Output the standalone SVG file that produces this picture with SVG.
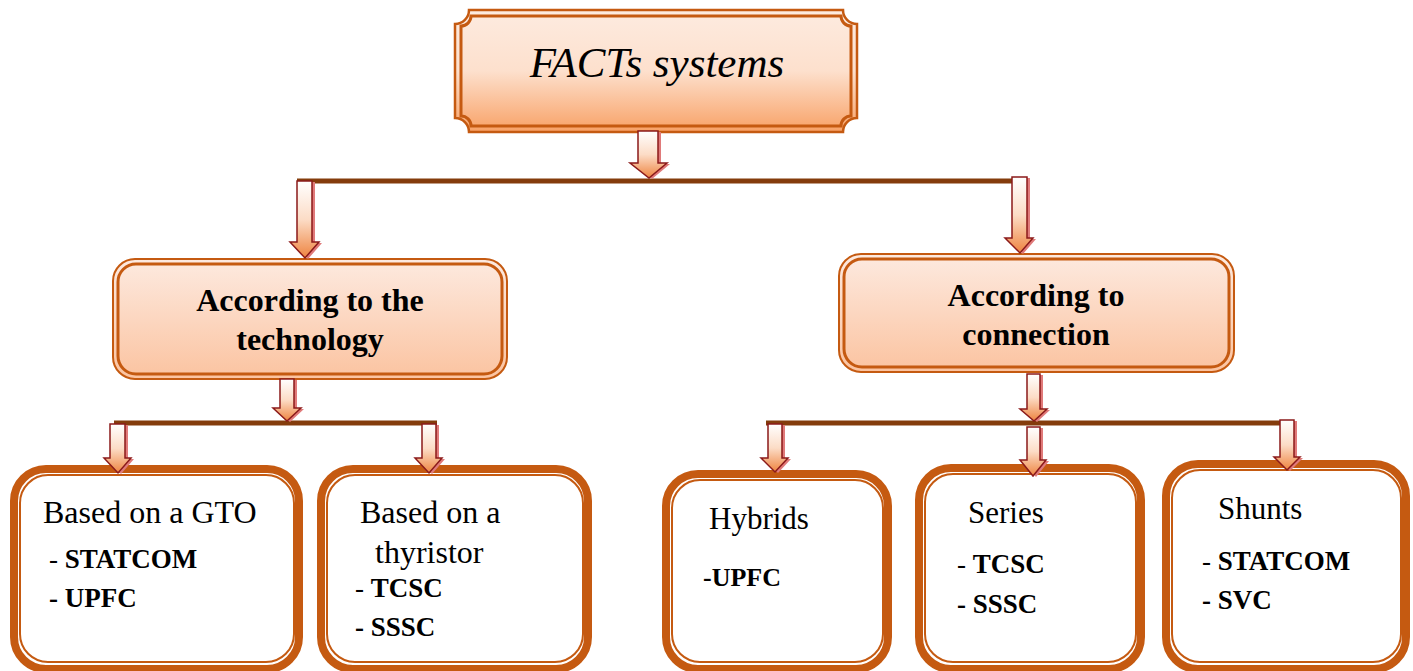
<svg xmlns="http://www.w3.org/2000/svg" width="1413" height="671" viewBox="0 0 1413 671">
<defs>
<linearGradient id="gTop" x1="0" y1="0" x2="0" y2="1">
<stop offset="0" stop-color="#fdebe0"/><stop offset="0.5" stop-color="#fde0cd"/><stop offset="1" stop-color="#f8a166"/>
</linearGradient>
<linearGradient id="gMid" x1="0" y1="0" x2="0" y2="1">
<stop offset="0" stop-color="#fdeae0"/><stop offset="1" stop-color="#fbc3a0"/>
</linearGradient>
<linearGradient id="gArr" x1="0" y1="0" x2="0" y2="1">
<stop offset="0" stop-color="#ffffff"/><stop offset="0.5" stop-color="#fcdcc6"/><stop offset="1" stop-color="#ee8440"/>
</linearGradient>
</defs>
<style>
.t{font-family:"Liberation Serif","Times New Roman",serif;fill:#000}
.b{font-weight:bold}
.midf{fill:url(#gMid);stroke:#c55a11;stroke-width:2}
.midi{fill:none;stroke:#c55a11;stroke-width:3}
.big{fill:#fff;stroke:#c55a11;stroke-width:8}
.thin{fill:none;stroke:#c55a11;stroke-width:2}
.line{stroke:#843c0c;stroke-width:5;fill:none}
.sh{fill:#e07a7a}
.ar{fill:url(#gArr);stroke:#8b1a1a;stroke-width:1.5}
</style>

<g id="facts">
<path d="M469,10 L843,10 A14,14 0 0 0 857,24 L857,118 A14,14 0 0 0 843,132 L469,132 A14,14 0 0 0 455,118 L455,24 A14,14 0 0 0 469,10 Z" fill="url(#gTop)" stroke="#c55a11" stroke-width="2.5"/>
<path d="M471,16 L841,16 A10,10 0 0 0 851,26 L851,116 A10,10 0 0 0 841,126 L471,126 A10,10 0 0 0 461,116 L461,26 A10,10 0 0 0 471,16 Z" fill="none" stroke="#c55a11" stroke-width="3"/>
<text class="t" x="657" y="77" font-size="43" font-style="italic" text-anchor="middle">FACTs systems</text>
</g>

<g id="tech">
<rect class="midf" x="113" y="259" width="394" height="120" rx="22"/>
<rect class="midi" x="118" y="264" width="384" height="110" rx="18"/>
<text class="t b" x="310" y="311" font-size="32" text-anchor="middle">According to the</text>
<text class="t b" x="310" y="350" font-size="32" text-anchor="middle">technology</text>
</g>

<g id="conn">
<rect class="midf" x="839" y="254" width="395" height="118" rx="22"/>
<rect class="midi" x="844" y="259" width="385" height="108" rx="18"/>
<text class="t b" x="1036" y="306" font-size="32" text-anchor="middle">According to</text>
<text class="t b" x="1036" y="345" font-size="32" text-anchor="middle">connection</text>
</g>

<g id="gto">
<rect class="big" x="14" y="469" width="285" height="200" rx="32"/>
<rect class="thin" x="20" y="475" width="274" height="187" rx="28"/>
<text class="t" x="43" y="523" font-size="32">Based on a GTO</text>
<text class="t" x="49" y="568" font-size="27">- <tspan class="b">STATCOM</tspan></text>
<text class="t b" x="49" y="607" font-size="27">- UPFC</text>
</g>

<g id="thyristor">
<rect class="big" x="321" y="469" width="267" height="200" rx="32"/>
<rect class="thin" x="327" y="475" width="256" height="187" rx="28"/>
<text class="t" x="360" y="523" font-size="32">Based on a</text>
<text class="t" x="375" y="563" font-size="32">thyristor</text>
<text class="t" x="355" y="597" font-size="27">- <tspan class="b">TCSC</tspan></text>
<text class="t b" x="355" y="636" font-size="27">- SSSC</text>
</g>

<g id="hybrids">
<rect class="big" x="666" y="474" width="222" height="195" rx="32"/>
<rect class="thin" x="672" y="480" width="211" height="182" rx="28"/>
<text class="t" x="709" y="529" font-size="31">Hybrids</text>
<text class="t b" x="703" y="586" font-size="26">-UPFC</text>
</g>

<g id="series">
<rect class="big" x="919" y="468" width="222" height="201" rx="32"/>
<rect class="thin" x="925" y="474" width="211" height="188" rx="28"/>
<text class="t" x="968" y="523" font-size="31">Series</text>
<text class="t" x="957" y="573" font-size="27">- <tspan class="b">TCSC</tspan></text>
<text class="t b" x="957" y="613" font-size="27">- SSSC</text>
</g>

<g id="shunts">
<rect class="big" x="1166" y="464" width="240" height="205" rx="32"/>
<rect class="thin" x="1172" y="470" width="229" height="192" rx="28"/>
<text class="t" x="1218" y="519" font-size="31">Shunts</text>
<text class="t" x="1202" y="570" font-size="27">- <tspan class="b">STATCOM</tspan></text>
<text class="t b" x="1202" y="609" font-size="27">- SVC</text>
</g>

<g id="connectors">
<path class="line" d="M297,181 H1024"/>
<path class="line" d="M114,423 H437"/>
<path class="line" d="M766,423 H1294"/>
<g transform="translate(3,1)">
<path class="sh" d="M638,131 H658 V163 H667 L649,178 L630,163 H638 Z"/>
<path class="sh" d="M297,181 H312 V242 H319 L305,258 L290,242 H297 Z"/>
<path class="sh" d="M1012,177 H1027 V238 H1033 L1020,253 L1005,238 H1012 Z"/>
<path class="sh" d="M280,379 H294 V408 H301 L287,421 L273,408 H280 Z"/>
<path class="sh" d="M110,424 H125 V458 H131 L118,473 L104,458 H110 Z"/>
<path class="sh" d="M422,424 H436 V458 H442 L429,473 L415,458 H422 Z"/>
<path class="sh" d="M1027,374 H1040 V409 H1047 L1034,421 L1020,409 H1027 Z"/>
<path class="sh" d="M768,424 H782 V458 H788 L775,472 L761,458 H768 Z"/>
<path class="sh" d="M1027,427 H1040 V460 H1046 L1033,476 L1020,460 H1027 Z"/>
<path class="sh" d="M1280,420 H1294 V457 H1300 L1287,470 L1274,457 H1280 Z"/>
</g>
<path class="ar" d="M638,131 H658 V163 H667 L649,178 L630,163 H638 Z"/>
<path class="ar" d="M297,181 H312 V242 H319 L305,258 L290,242 H297 Z"/>
<path class="ar" d="M1012,177 H1027 V238 H1033 L1020,253 L1005,238 H1012 Z"/>
<path class="ar" d="M280,379 H294 V408 H301 L287,421 L273,408 H280 Z"/>
<path class="ar" d="M110,424 H125 V458 H131 L118,473 L104,458 H110 Z"/>
<path class="ar" d="M422,424 H436 V458 H442 L429,473 L415,458 H422 Z"/>
<path class="ar" d="M1027,374 H1040 V409 H1047 L1034,421 L1020,409 H1027 Z"/>
<path class="ar" d="M768,424 H782 V458 H788 L775,472 L761,458 H768 Z"/>
<path class="ar" d="M1027,427 H1040 V460 H1046 L1033,476 L1020,460 H1027 Z"/>
<path class="ar" d="M1280,420 H1294 V457 H1300 L1287,470 L1274,457 H1280 Z"/>
</g>
</svg>
